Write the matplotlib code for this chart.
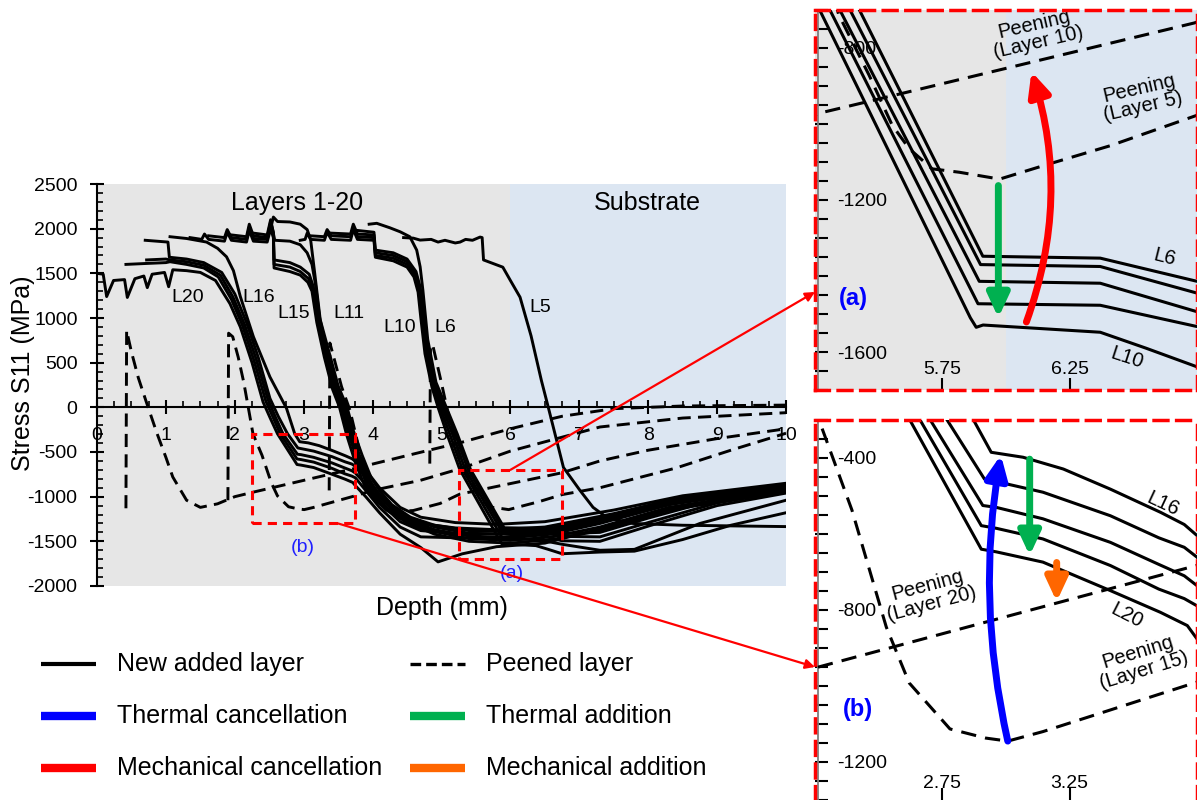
import numpy as np
import matplotlib
matplotlib.use("Agg")
import matplotlib.pyplot as plt
from matplotlib.patches import Rectangle, FancyArrowPatch, ConnectionPatch
from matplotlib.lines import Line2D
from matplotlib.ticker import MultipleLocator

plt.rcParams['font.family'] = ['Liberation Sans', 'DejaVu Sans']
plt.rcParams['axes.unicode_minus'] = False

# ---- stress profiles: (depth mm, S11 MPa) ----
# new added layers 16-20
L20 = [(0.00, 1500), (0.09, 1490), (0.14, 1240), (0.24, 1420), (0.40, 1430), (0.44, 1230),
       (0.55, 1440), (0.68, 1470), (0.73, 1340), (0.80, 1490), (0.98, 1510), (1.04, 1350),
       (1.10, 1540), (1.30, 1530), (1.50, 1510), (1.72, 1420), (1.93, 1160), (2.08, 900),
       (2.25, 500), (2.41, 60), (2.52, -130), (2.62, -297), (2.903, -640), (2.962, -647),
       (3.145, -674), (3.41, -749), (3.606, -806), (3.712, -841), (3.75, -876), (3.90, -1000),
       (4.10, -1180), (4.40, -1420), (4.70, -1570), (4.95, -1730), (5.30, -1640), (5.80, -1560),
       (6.50, -1520), (7.50, -1320), (8.50, -1100), (10.0, -930)]
L19 = [(0.42, 1600), (0.70, 1610), (1.00, 1620), (1.06, 1630), (1.30, 1600), (1.55, 1560),
       (1.76, 1460), (1.95, 1210), (2.11, 920), (2.28, 520), (2.45, 70), (2.56, -120),
       (2.66, -297), (2.903, -578), (2.962, -585), (3.145, -613), (3.41, -683), (3.60, -745),
       (3.70, -770), (3.75, -789), (3.90, -930), (4.10, -1120), (4.40, -1340), (4.70, -1450),
       (5.20, -1460), (5.80, -1460), (6.50, -1410), (7.50, -1250), (8.50, -1050), (10.0, -900)]
L18 = [(0.72, 1650), (1.00, 1660), (1.06, 1650), (1.30, 1630), (1.55, 1590), (1.79, 1480),
       (1.97, 1240), (2.14, 930), (2.31, 540), (2.48, 90), (2.59, -110), (2.70, -297),
       (2.909, -525), (2.962, -530), (3.145, -560), (3.41, -622), (3.60, -680), (3.70, -710),
       (3.75, -736), (3.90, -860), (4.10, -1060), (4.40, -1280), (4.70, -1380), (5.20, -1410),
       (5.80, -1420), (6.50, -1380), (7.50, -1220), (8.50, -1030), (10.0, -880)]
L17 = [(0.70, 1870), (1.03, 1850), (1.05, 1680), (1.30, 1660), (1.55, 1620), (1.81, 1510),
       (2.00, 1270), (2.17, 950), (2.34, 560), (2.51, 100), (2.63, -100), (2.766, -297),
       (2.915, -455), (2.962, -462), (3.145, -490), (3.41, -552), (3.60, -610), (3.70, -635),
       (3.75, -661), (3.90, -780), (4.10, -980), (4.40, -1200), (4.70, -1300), (5.20, -1350),
       (5.80, -1370), (6.50, -1340), (7.50, -1190), (8.50, -1010), (10.0, -870)]
L16 = [(1.06, 1910), (1.30, 1890), (1.59, 1850), (1.75, 1780), (1.88, 1685), (1.98, 1530),
       (2.08, 1240), (2.27, 790), (2.51, 340), (2.75, -10), (2.87, -297), (2.942, -385),
       (3.067, -398), (3.225, -429), (3.41, -482), (3.607, -543), (3.70, -575), (3.75, -604),
       (3.90, -700), (4.10, -900), (4.40, -1120), (4.70, -1230), (5.20, -1290), (5.80, -1310),
       (6.50, -1280), (7.50, -1150), (8.50, -990), (10.0, -850)]

# new added layers 11-15
L15 = [(1.35, 1900), (1.52, 1880), (1.56, 1940), (1.62, 1880), (1.85, 1860), (1.89, 1960),
       (1.95, 1870), (2.17, 1850), (2.21, 1980), (2.27, 1860), (2.47, 1850), (2.52, 2000),
       (2.56, 1900), (2.57, 1560), (2.80, 1520), (2.95, 1480), (3.06, 1400), (3.12, 1300),
       (3.19, 950), (3.30, 560), (3.42, 200), (3.52, 0), (3.62, -300), (3.75, -620),
       (3.88, -870), (4.00, -1000), (4.20, -1150), (4.50, -1290), (4.90, -1420), (5.40, -1500),
       (6.00, -1520), (6.60, -1480), (7.30, -1380), (8.30, -1150), (10.0, -940)]
L14 = [(1.62, 1920), (1.85, 1900), (1.89, 1990), (1.95, 1900), (2.17, 1880), (2.21, 2020),
       (2.27, 1890), (2.47, 1880), (2.52, 2050), (2.56, 1930), (2.57, 1600), (2.80, 1570),
       (2.95, 1520), (3.07, 1440), (3.13, 1320), (3.20, 970), (3.31, 580), (3.44, 210),
       (3.55, 0), (3.65, -290), (3.78, -600), (3.91, -850), (4.03, -980), (4.22, -1130),
       (4.50, -1270), (4.90, -1390), (5.40, -1470), (6.00, -1490), (6.60, -1450), (7.30, -1340),
       (8.30, -1120), (10.0, -920)]
L13 = [(1.95, 1930), (2.17, 1910), (2.21, 2050), (2.27, 1920), (2.47, 1900), (2.52, 2080),
       (2.56, 1960), (2.57, 1650), (2.80, 1620), (2.95, 1570), (3.08, 1490), (3.14, 1350),
       (3.21, 990), (3.32, 600), (3.46, 220), (3.57, 0), (3.67, -280), (3.80, -580),
       (3.93, -830), (4.05, -960), (4.24, -1110), (4.50, -1250), (4.90, -1370), (5.40, -1440),
       (6.00, -1460), (6.60, -1420), (7.30, -1300), (8.30, -1090), (10.0, -900)]
L12 = [(2.27, 1950), (2.47, 1930), (2.52, 2100), (2.58, 1870), (2.80, 1860), (2.95, 1820),
       (3.05, 1730), (3.12, 1600), (3.17, 1380), (3.23, 1010), (3.34, 620), (3.48, 230),
       (3.60, 0), (3.69, -270), (3.82, -560), (3.95, -810), (4.07, -945), (4.26, -1100),
       (4.55, -1240), (4.90, -1340), (5.40, -1410), (6.00, -1420), (6.60, -1380), (7.30, -1270),
       (8.30, -1060), (10.0, -880)]
L11 = [(2.52, 2000), (2.56, 2130), (2.62, 2080), (2.80, 2075), (2.95, 2050), (3.05, 1990),
       (3.10, 1880), (3.16, 1500), (3.24, 980), (3.36, 640), (3.50, 240), (3.63, 0),
       (3.72, -260), (3.85, -540), (3.98, -790), (4.10, -930), (4.28, -1090), (4.55, -1230),
       (4.90, -1320), (5.40, -1380), (6.00, -1390), (6.60, -1350), (7.30, -1240), (8.30, -1040),
       (10.0, -860)]

# new added layers 6-10
L10 = [(2.95, 1870), (3.02, 1880), (3.05, 1950), (3.10, 1880), (3.30, 1870), (3.34, 1960),
       (3.40, 1880), (3.68, 1870), (3.72, 1990), (3.78, 1880), (4.02, 1870), (4.04, 1680),
       (4.30, 1640), (4.50, 1570), (4.60, 1460), (4.66, 1290), (4.70, 1000), (4.76, 600),
       (4.86, 230), (4.95, 0), (5.08, -300), (5.264, -694), (5.86, -1510), (5.883, -1535),
       (5.91, -1529), (6.37, -1548), (6.55, -1590), (6.75, -1639), (7.30, -1620), (7.80, -1610),
       (8.50, -1480), (9.20, -1320), (10.0, -1180)]
L9 = [(3.10, 1920), (3.30, 1910), (3.34, 1990), (3.40, 1920), (3.68, 1910), (3.72, 2020),
      (3.78, 1910), (4.02, 1900), (4.04, 1700), (4.30, 1670), (4.50, 1600), (4.61, 1480),
      (4.67, 1310), (4.71, 1050), (4.77, 640), (4.88, 250), (4.98, 0), (5.12, -300),
      (5.304, -694), (5.89, -1473), (6.37, -1477), (6.75, -1533), (7.30, -1600), (7.80, -1590),
      (8.75, -1300), (10.0, -1040)]
L8 = [(3.40, 1950), (3.68, 1940), (3.72, 2050), (3.78, 1940), (4.02, 1930), (4.04, 1730),
      (4.30, 1700), (4.50, 1630), (4.62, 1500), (4.68, 1330), (4.72, 1080), (4.78, 680),
      (4.90, 260), (5.01, 0), (5.16, -300), (5.343, -694), (5.895, -1414), (6.37, -1419),
      (6.75, -1494), (7.30, -1500), (8.00, -1330), (9.00, -1100), (10.0, -960)]
L7 = [(3.78, 1980), (4.02, 1960), (4.04, 1760), (4.30, 1730), (4.50, 1660), (4.63, 1520),
      (4.69, 1350), (4.73, 1100), (4.79, 700), (4.91, 270), (5.04, 0), (5.20, -300),
      (5.383, -694), (5.90, -1370), (6.37, -1375), (6.75, -1445), (7.30, -1450), (8.00, -1290),
      (9.00, -1070), (10.0, -940)]
L6 = [(3.95, 2050), (4.06, 2060), (4.25, 2010), (4.40, 1965), (4.54, 1910), (4.64, 1760),
      (4.69, 1573), (4.73, 1311), (4.80, 760), (4.92, 280), (5.07, 0), (5.23, -300),
      (5.42, -694), (5.909, -1348), (6.37, -1353), (6.75, -1414), (7.30, -1400), (8.00, -1240),
      (9.00, -1030), (10.0, -920)]

L5 = [(4.45, 1900), (4.59, 1894), (4.69, 1872), (4.85, 1880), (4.95, 1850), (5.05, 1870),
      (5.20, 1840), (5.27, 1850), (5.35, 1880), (5.45, 1870), (5.56, 1906), (5.59, 1900),
      (5.61, 1650), (5.89, 1569), (6.00, 1420), (6.14, 1233), (6.30, 800), (6.45, 300),
      (6.55, 0), (6.77, -673), (7.01, -930), (7.20, -1120), (7.40, -1233), (7.78, -1300),
      (8.50, -1320), (10.0, -1335)]

# peened layers
D20 = [(0.42, -1130), (0.43, 860), (0.50, 620), (0.60, 330), (0.72, 50), (0.87, -290),
       (1.00, -560), (1.10, -780), (1.30, -1040), (1.50, -1120), (1.75, -1080), (2.00, -1000),
       (2.264, -950), (3.753, -682), (4.50, -540), (5.30, -390), (6.00, -240), (6.75, -100),
       (7.50, -15), (8.50, 15), (10.0, 25)]
D15 = [(1.90, -1040), (1.91, 830), (1.97, 790), (2.05, 560), (2.13, 280), (2.20, -20),
       (2.264, -297), (2.395, -537), (2.53, -845), (2.62, -992), (2.78, -1113), (2.92, -1137),
       (3.007, -1145), (3.145, -1120), (3.41, -1063), (3.753, -989), (4.00, -930), (4.69, -818),
       (5.30, -680), (6.00, -490), (7.30, -220), (8.50, -120), (10.0, -60)]
D10 = [(3.37, -930), (3.38, 720), (3.45, 520), (3.55, 230), (3.67, -30), (3.80, -450),
       (3.95, -800), (4.10, -1050), (4.30, -1170), (4.59, -1155), (4.98, -1076), (5.264, -972),
       (5.57, -923), (6.74, -734), (7.30, -600), (8.00, -480), (9.00, -350), (10.0, -240)]
D5 = [(4.83, -630), (4.84, 700), (4.88, 673), (5.00, 270), (5.15, -258), (5.343, -712),
      (5.462, -871), (5.553, -1003), (5.62, -1065), (5.71, -1118), (5.817, -1127), (5.975, -1145),
      (6.145, -1110), (6.41, -1057), (6.75, -977), (7.30, -900), (8.40, -680), (9.20, -480),
      (10.0, -290)]

SOLID_ALL = [L20, L19, L18, L17, L16, L15, L14, L13, L12, L11, L10, L9, L8, L7, L6, L5]
DASHED_ALL = [D20, D15, D10, D5]

# zoom windows (x0, x1, y0, y1)
ZOOM_A = (5.25, 6.75, -1700, -700)
ZOOM_B = (2.25, 3.75, -1300, -300)

# arrows in the zoom panels: (start, end, color, curvature)
ARROWS_A = [((5.97, -1162), (5.97, -1510), '#00b050', 0.0),
            ((6.08, -1521), (6.10, -862), '#ff0000', 0.17)]
ARROWS_B = [((3.007, -1145), (2.98, -392), '#0000ff', -0.10),
            ((3.093, -403), (3.093, -657), '#00b050', 0.0),
            ((3.199, -675), (3.199, -778), '#ff6600', 0.0)]

W, H = 1197, 800


def fbox(l, t, r, b):
    return [l / W, 1 - b / H, (r - l) / W, (b - t) / H]


def xy(pts):
    a = np.array(pts, dtype=float)
    return a[:, 0], a[:, 1]


def draw_curves(a, solids, dashed, lw, dash):
    for c in solids:
        x, y = xy(c)
        a.plot(x, y, color='black', lw=lw, zorder=3, solid_joinstyle='round')
    for c in dashed:
        x, y = xy(c)
        a.plot(x, y, color='black', lw=lw, ls=dash, zorder=3)


fig = plt.figure(figsize=(11.97, 8.0), dpi=100)

# ---------------- main panel ----------------
ax = fig.add_axes(fbox(97, 184, 786, 586))
ax.set_xlim(0, 10)
ax.set_ylim(-2000, 2500)
ax.axvspan(0, 6, color='#e6e6e6', lw=0, zorder=0)
ax.axvspan(6, 10, color='#dce6f2', lw=0, zorder=0)
ax.spines['top'].set_visible(False)
ax.spines['right'].set_visible(False)
ax.spines['bottom'].set_position(('data', 0))
ax.spines['left'].set_linewidth(1.5)
ax.spines['bottom'].set_linewidth(1.5)
ax.xaxis.set_major_locator(MultipleLocator(1))
ax.xaxis.set_minor_locator(MultipleLocator(0.25))
ax.yaxis.set_major_locator(MultipleLocator(500))
ax.yaxis.set_minor_locator(MultipleLocator(100))
ax.tick_params(which='major', direction='inout', length=10, width=1.5, labelsize=14)
ax.tick_params(which='minor', direction='in', length=4, width=1.2)
ax.tick_params(axis='y', which='major', pad=9)
ax.tick_params(axis='x', which='major', pad=9)

draw_curves(ax, SOLID_ALL, DASHED_ALL, 2.1, (0, (4.5, 2.5)))

ax.set_ylabel('Stress S11 (MPa)', fontsize=18)
ax.yaxis.set_label_coords(-0.09, 0.53)
ax.set_xlabel('Depth (mm)', fontsize=18)
ax.xaxis.set_label_coords(0.5, -0.025)

ax.text(2.90, 2287, 'Layers 1-20', fontsize=18, ha='center', va='center')
ax.text(7.98, 2287, 'Substrate', fontsize=18, ha='center', va='center')
for lbl, lx, ly in [('L20', 1.32, 1233), ('L16', 2.34, 1233), ('L15', 2.85, 1054),
                    ('L11', 3.65, 1054), ('L10', 4.40, 897), ('L6', 5.05, 897),
                    ('L5', 6.43, 1121)]:
    ax.text(lx, ly, lbl, fontsize=14, ha='center', va='center', zorder=4)
ax.text(2.99, -1569, '(b)', fontsize=14, color='#2020ff', ha='center', va='center')
ax.text(6.02, -1861, '(a)', fontsize=14, color='#2020ff', ha='center', va='center')

for z in (ZOOM_A, ZOOM_B):
    ax.add_patch(Rectangle((z[0], z[2]), z[1] - z[0], z[3] - z[2], fill=False,
                           ec='red', lw=2.2, ls=(0, (3, 2)), zorder=5))


# ---------------- zoom panels ----------------
def setup_zoom(a, z, xticks, spans, xpad):
    a.set_xlim(z[0], z[1])
    a.set_ylim(z[2], z[3])
    for x0, x1, c in spans:
        a.axvspan(x0, x1, color=c, lw=0, zorder=0)
    for s in a.spines.values():
        s.set_edgecolor('red')
        s.set_linestyle((0, (4, 2.5)))
        s.set_linewidth(2.5)
        s.set_zorder(6)
    a.axvline(z[0] + 0.012, color='#7f7f7f', lw=1.3, zorder=2)
    a.set_xticks(xticks)
    a.yaxis.set_major_locator(MultipleLocator(400))
    a.yaxis.set_minor_locator(MultipleLocator(50))
    a.tick_params(axis='y', which='both', direction='in', length=9, width=1.5,
                  pad=-16, labelsize=14)
    a.tick_params(axis='x', which='both', direction='in', length=9, width=1.5,
                  pad=xpad, labelsize=14)
    plt.setp(a.get_yticklabels(), ha='left')


def add_arrows(a, arrows):
    for p0, p1, c, rad in arrows:
        a.add_patch(FancyArrowPatch(p0, p1, connectionstyle=f'arc3,rad={rad}',
                                    arrowstyle='-|>,head_length=14,head_width=6.5',
                                    mutation_scale=1, color=c, lw=5, zorder=5,
                                    shrinkA=0, shrinkB=0))


axa = fig.add_axes(fbox(815, 10, 1197, 390))
setup_zoom(axa, ZOOM_A, [5.75, 6.25], [(5.25, 6.0, '#e6e6e6'), (6.0, 6.75, '#dce6f2')], -21)
draw_curves(axa, [L10, L9, L8, L7, L6], [D10, D5], 2.2, (0, (5, 3)))
add_arrows(axa, ARROWS_A)
axa.text(5.40, -1458, '(a)', fontsize=17, fontweight='bold', color='#0000ff',
         ha='center', va='center')
axa.text(6.12, -762, 'Peening\n(Layer 10)', fontsize=14.5, rotation=13, ha='center',
         va='center', rotation_mode='anchor', linespacing=1.0)
axa.text(6.53, -930, 'Peening\n(Layer 5)', fontsize=14.5, rotation=13, ha='center',
         va='center', rotation_mode='anchor', linespacing=1.0)
axa.text(6.624, -1350, 'L6', fontsize=14.5, rotation=-14, ha='center', va='center')
axa.text(6.475, -1616, 'L10', fontsize=14.5, rotation=-18, ha='center', va='center')

axb = fig.add_axes(fbox(815, 420, 1197, 800))
setup_zoom(axb, ZOOM_B, [2.75, 3.25], [], -18)
axb.spines['bottom'].set_visible(False)
draw_curves(axb, [L20, L19, L18, L17, L16], [D20, D15], 2.2, (0, (5, 3)))
add_arrows(axb, ARROWS_B)
axb.text(2.419, -1063, '(b)', fontsize=17, fontweight='bold', color='#0000ff',
         ha='center', va='center')
axb.text(2.70, -760, 'Peening\n(Layer 20)', fontsize=14.5, rotation=15, ha='center',
         va='center', rotation_mode='anchor', linespacing=1.0)
axb.text(3.53, -935, 'Peening\n(Layer 15)', fontsize=14.5, rotation=17, ha='center',
         va='center', rotation_mode='anchor', linespacing=1.0)
axb.text(3.617, -520, 'L16', fontsize=14.5, rotation=-25, ha='center', va='center')
axb.text(3.475, -815, 'L20', fontsize=14.5, rotation=-27, ha='center', va='center')

# connectors from the boxes to the zoom panels
for xyA, axB, yB in [((6.0, -700), axa, 0.258), ((3.5, -1300), axb, 0.35)]:
    con = ConnectionPatch(xyA=xyA, coordsA='data', axesA=ax, xyB=(0, yB),
                          coordsB='axes fraction', axesB=axB, arrowstyle='-|>',
                          mutation_scale=14, color='red', lw=1.6, zorder=10)
    fig.add_artist(con)

# ---------------- legend ----------------
LEGEND_LABELS = ['New added layer', 'Thermal cancellation', 'Mechanical cancellation',
                 'Peened layer', 'Thermal addition', 'Mechanical addition']
LEGEND_STYLES = [('black', '-', 3.0), ('#0000ff', '-', 6.0), ('#ff0000', '-', 6.0),
                 ('black', (0, (3.2, 1.5)), 2.4), ('#00b050', '-', 6.0), ('#ff6600', '-', 6.0)]
col_x = [41, 410]
row_y = [664, 716, 768]
for i, (lab, (c, ls, lw)) in enumerate(zip(LEGEND_LABELS, LEGEND_STYLES)):
    x0 = col_x[i // 3]
    y0 = 1 - row_y[i % 3] / H
    fig.add_artist(Line2D([x0 / W, (x0 + 55) / W], [y0, y0], transform=fig.transFigure,
                          color=c, ls=ls, lw=lw, solid_capstyle='butt'))
    fig.text((x0 + 76) / W, y0, lab, fontsize=18, va='center', ha='left')

fig.savefig('out.png', dpi=100)
